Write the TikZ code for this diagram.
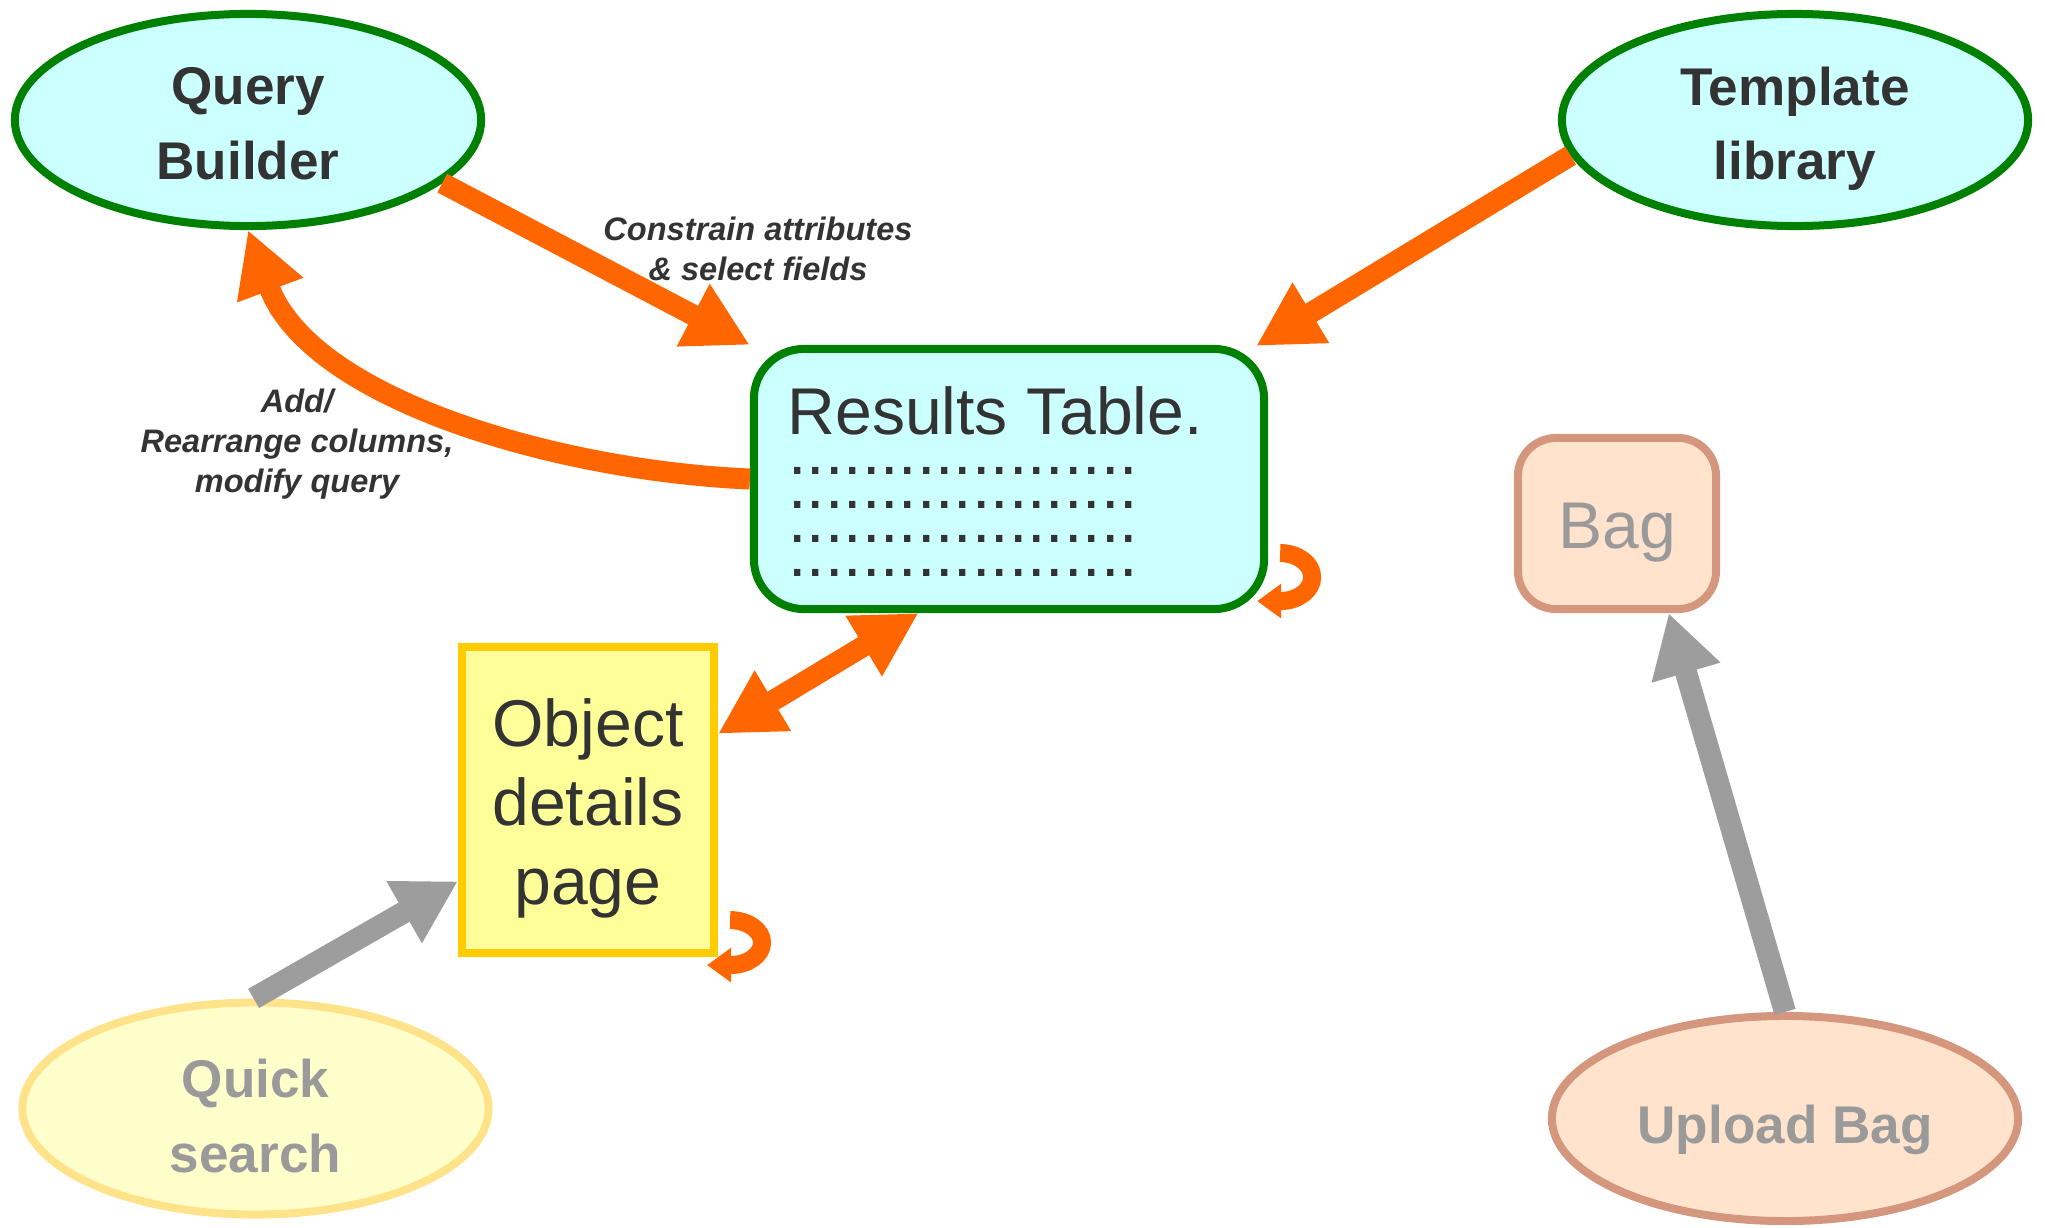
\documentclass[tikz,border=0pt]{standalone}
\usepackage{fontspec}
\setmainfont{Liberation Sans}
\usetikzlibrary{shapes.geometric,arrows.meta,calc}
\definecolor{orng}{HTML}{FF6600}
\definecolor{grn}{HTML}{008000}
\definecolor{cyanf}{HTML}{CCFFFF}
\definecolor{yelf}{HTML}{FFFF99}
\definecolor{yeld}{HTML}{FFCC00}
\definecolor{txt}{HTML}{333333}
\definecolor{fadetxt}{HTML}{9A9A9A}
\definecolor{qsf}{HTML}{FFFFCC}
\definecolor{qsd}{HTML}{FFE38A}
\definecolor{bagf}{HTML}{FFE3CC}
\definecolor{bagd}{HTML}{D4977E}
\definecolor{garr}{HTML}{9D9D9D}
\newcommand\nodp[1]{\raisebox{0pt}[\height][0pt]{#1}}
\newcommand\strt[1]{\rule{0pt}{#1}}
\begin{document}
\begin{tikzpicture}[x=0.01cm,y=-0.01cm,
 ell/.style={ellipse, line width=0.08cm, minimum width=4.66cm, minimum height=2.12cm, inner sep=0pt, align=center, font=\fontsize{15.1pt}{21.3pt}\selectfont\bfseries},
 mainell/.style={ell, draw=grn, fill=cyanf, text=txt},
 bigtxt/.style={font=\fontsize{18.8pt}{22.6pt}\selectfont, text=txt},
 lbl/.style={inner sep=0pt, align=center, text=txt, font=\fontsize{9.25pt}{11.4pt}\selectfont\bfseries\itshape},
 oarrow/.style={draw=orng, line width=0.21cm, -{Triangle[length=0.64cm,width=0.66cm]}},
 garrow/.style={draw=garr, line width=0.22cm, -{Triangle[length=0.62cm,width=0.67cm]}},
 oloop/.style={draw=orng, line width=0.18cm, -{Triangle[length=0.24cm,width=0.33cm]}},
]
\useasboundingbox (0,0) rectangle (2045,1227);

% nodes
\node[mainell] (qb) at (248,120) {\strt{0.45cm}Query\\Builder};
\node[mainell] (tl) at (1795,120) {\strt{0.45cm}Template\\\nodp{library}};
\node[draw=grn, fill=cyanf, line width=0.08cm, rounded corners=0.5cm, minimum width=5.1cm, minimum height=2.6cm, inner sep=0pt] (rt) at (1009,479) {};
\node[draw=yeld, fill=yelf, line width=0.08cm, minimum width=2.52cm, minimum height=3.06cm, inner sep=0pt, align=center, bigtxt] (od) at (588,800) {\strt{0.51cm}Object\\details\\\nodp{page}};
\node[draw=bagd, fill=bagf, line width=0.08cm, rounded corners=0.38cm, minimum width=1.98cm, minimum height=1.71cm, inner sep=0pt, bigtxt, text=fadetxt] (bag) at (1617,523.5) {\strt{0.49cm}\nodp{Bag}};
\node[ell, draw=bagd, fill=bagf, text=fadetxt, minimum height=2.05cm] (ub) at (1785,1118.5) {\strt{0.5cm}\nodp{Upload Bag}};
\node[ell, draw=qsd, fill=qsf, text=fadetxt] (qs) at (255.5,1108.5) {\strt{0.53cm}Quick\\search};

% results table text
\node[bigtxt, anchor=base west, inner sep=0pt] (rtt) at ($(rt.north west)+(37,90)$) {Results Table.};
\node[anchor=south west, inner sep=0pt, align=left, text=txt, font=\fontsize{18.8pt}{9.62pt}\selectfont] (rdots) at ($(rt.north west)+(38,232)$)
  {...................\\...................\\...................\\...................};

% labels
\node[lbl] (lc) at (758,249) {Constrain attributes\\\& select fields};
\node[lbl] (la) at (297,444) {Add/\\Rearrange columns,\\modify query};

% connectors
\draw[oarrow] (qb.-18.5) -- (rt.north west);
\draw[oarrow] (tl.-171.5) -- ($(rt.north east)+(-12,1)$);
\draw[oarrow] (rt.west) .. controls +(-190,-8) and +(63,170) .. (qb.south);
\draw[oarrow, {Triangle[length=0.64cm,width=0.66cm]}-{Triangle[length=0.64cm,width=0.66cm]}] (od.27.3) -- (rt.-124.2);
\draw[garrow] (qs.91) -- (od.212.9);
\draw[garrow] (ub.north) -- (bag.-60.8);

% self loops
\draw[oloop] ($(rt.south east)+(12,-60)$) .. controls +(17.7,0) and +(0,-13.25) .. ($(rt.south east)+(44,-36)$) .. controls +(0,13.25) and +(17.7,0) .. ($(rt.south east)+(12,-12)$) -- ($(rt.south east)+(-11,-12)$);
\draw[oloop] ($(od.south east)+(12,-37)$) .. controls +(17.7,0) and +(0,-12.4) .. ($(od.south east)+(44,-14.5)$) .. controls +(0,12.4) and +(17.7,0) .. ($(od.south east)+(12,8)$) -- ($(od.south east)+(-11,8)$);
\end{tikzpicture}
\end{document}
